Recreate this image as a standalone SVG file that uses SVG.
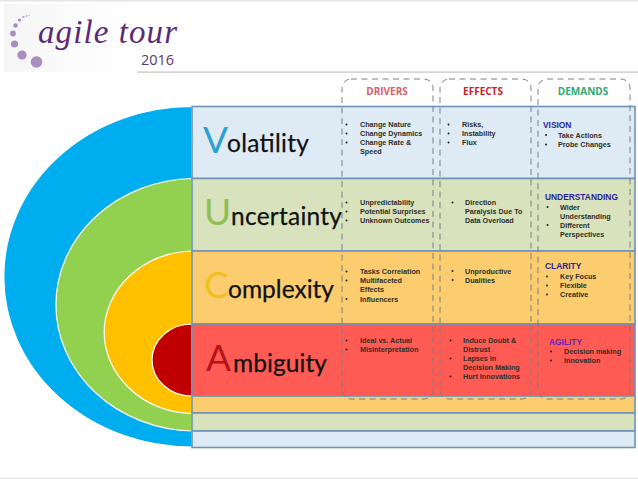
<svg xmlns="http://www.w3.org/2000/svg" width="638" height="479" viewBox="0 0 638 479">
<defs>
<linearGradient id="logoBg" x1="0" y1="0" x2="1" y2="0"><stop offset="0" stop-color="#f5f5f5"/><stop offset="0.6" stop-color="#fcfcfc"/><stop offset="1" stop-color="#ffffff"/></linearGradient>
</defs>
<style>
.arc{stroke:#fff;stroke-width:1.2}
.row{stroke:#6f93b5;stroke-width:1.6}
.dash{fill:none;stroke:#7a7f85;stroke-width:1;stroke-dasharray:6 4.5}
.big{font-family:Lato,"Open Sans",sans-serif;font-size:37px}
.word{font-family:Lato,"Open Sans",sans-serif;font-size:24.5px;fill:#101010;stroke:#101010;stroke-width:.25}
.hd{font-family:"Open Sans","Liberation Sans",sans-serif;font-size:10px;font-weight:700;text-anchor:middle}
.t{font-family:"Liberation Sans",Arial,sans-serif;font-size:7.2px;font-weight:700;fill:#2e2e26}
.h{font-family:"Liberation Sans",Arial,sans-serif;font-size:8.4px;font-weight:700;fill:#2a1f9a}
.b{fill:#1e1e1e}
</style>
<rect width="638" height="479" fill="#fff"/>
<g id="logo">
<rect x="4" y="4" width="134" height="68" fill="url(#logoBg)"/>
<rect x="0" y="0" width="638" height="1.5" fill="#e4e4e4"/>
<rect x="137" y="71.5" width="501" height="1.2" fill="#c4c4c4"/>
<rect x="0" y="477.5" width="638" height="1.5" fill="#e8e8e8"/>
<g fill="#a98cc0">
<circle cx="36.5" cy="62" r="5.8"/><circle cx="22" cy="55" r="4.6"/><circle cx="14.5" cy="44" r="3.6"/><circle cx="13" cy="33.5" r="2.9"/><circle cx="15.5" cy="25.5" r="2.3"/><circle cx="19.5" cy="20" r="1.6"/><circle cx="23.5" cy="17" r="1.1"/><circle cx="26.5" cy="16" r="0.8"/><circle cx="29" cy="15.3" r="0.6"/>
</g>
<text x="38" y="43" font-family="'Liberation Serif',serif" font-style="italic" font-size="33" fill="#5a2a78" textLength="139">agile tour</text>
<text x="141" y="65" font-family="'Open Sans',sans-serif" font-size="14.5" fill="#5a3a70">2016</text>
</g>
<g id="onion">
<path class="arc" d="M192 106.5A188 170 0 0 0 192 447Z" fill="#00aeef"/>
<path class="arc" d="M192 178.5A140 126.3 0 0 0 192 431Z" fill="#92d050"/>
<path class="arc" d="M192 251A91 81.3 0 0 0 192 413.5Z" fill="#ffc000"/>
<path class="arc" d="M192 324A40 36 0 0 0 192 396Z" fill="#c00000"/>
</g>
<g id="row-volatility">
<rect class="row" x="192" y="106.5" width="443" height="72" fill="#deebf4"/>
<text class="big" x="203" y="153" fill="#2e9fd0">V</text><text class="word" x="227" y="152" textLength="82">olatility</text>
</g>
<g id="row-uncertainty">
<rect class="row" x="192" y="178.5" width="443" height="72.5" fill="#d8e2bd"/>
<text class="big" x="204" y="225" fill="#8cc152">U</text><text class="word" x="231" y="225" textLength="111">ncertainty</text>
</g>
<g id="row-complexity">
<rect class="row" x="192" y="251" width="443" height="73" fill="#fbcd6e"/>
<text class="big" x="204" y="298" fill="#f0c020">C</text><text class="word" x="228" y="298" textLength="106">omplexity</text>
</g>
<g id="row-ambiguity">
<rect class="row" x="192" y="324" width="443" height="72" fill="#ff5b55"/>
<text class="big" x="206" y="371" fill="#b5121b">A</text><text class="word" x="233" y="372" textLength="94">mbiguity</text>
</g>
<g id="bands">
<rect class="row" x="192" y="396" width="443" height="17" fill="#fbcd6e"/>
<rect class="row" x="192" y="413" width="443" height="18" fill="#d8e2bd"/>
<rect class="row" x="192" y="431" width="443" height="16.5" fill="#deebf4"/>
</g>
<g id="col-drivers">
<rect class="dash" x="342" y="79" width="91" height="320" rx="9"/>
<text class="hd" x="387" y="95" fill="#d8606a">DRIVERS</text>
<g class="t">
<text x="360" y="127">Change Nature</text><text x="360" y="136">Change Dynamics</text><text x="360" y="145">Change Rate &amp;</text><text x="360" y="154">Speed</text>
<text x="360" y="205">Unpredictability</text><text x="360" y="214">Potential Surprises</text><text x="360" y="223">Unknown Outcomes</text>
<text x="360" y="274">Tasks Correlation</text><text x="360" y="283">Multifaceted</text><text x="360" y="292">Effects</text><text x="360" y="301.5">Influencers</text>
<text x="360" y="343">Ideal vs. Actual</text><text x="360" y="352">Misinterpretation</text>
</g>
<g class="b">
<circle cx="346.5" cy="124.5" r="1"/><circle cx="346.5" cy="133.5" r="1"/><circle cx="346.5" cy="142.5" r="1"/>
<circle cx="346.5" cy="202.5" r="1"/><circle cx="346.5" cy="211.5" r="1"/><circle cx="346.5" cy="220.5" r="1"/>
<circle cx="346.5" cy="271.5" r="1"/><circle cx="346.5" cy="280.5" r="1"/><circle cx="346.5" cy="299" r="1"/>
<circle cx="346.5" cy="340.5" r="1"/><circle cx="346.5" cy="349.5" r="1"/>
</g>
</g>
<g id="col-effects">
<rect class="dash" x="440" y="79" width="91" height="320" rx="9"/>
<text class="hd" x="483" y="95" fill="#cc2028">EFFECTS</text>
<g class="t">
<text x="462" y="127">Risks,</text><text x="462" y="136">Instability</text><text x="462" y="145">Flux</text>
<text x="465" y="205">Direction</text><text x="465" y="214">Paralysis Due To</text><text x="465" y="223">Data Overload</text>
<text x="465" y="273.5">Unproductive</text><text x="465" y="282.5">Dualities</text>
<text x="463" y="343">Induce Doubt &amp;</text><text x="463" y="352">Distrust</text><text x="463" y="361">Lapses In</text><text x="463" y="370">Decision Making</text><text x="463" y="379">Hurt Innovations</text>
</g>
<g class="b">
<circle cx="448.5" cy="124.5" r="1"/><circle cx="448.5" cy="133.5" r="1"/><circle cx="448.5" cy="142.5" r="1"/>
<circle cx="452.5" cy="202.5" r="1"/>
<circle cx="452.5" cy="271" r="1"/><circle cx="452.5" cy="280" r="1"/>
<circle cx="450.5" cy="340.5" r="1"/><circle cx="450.5" cy="358.5" r="1"/><circle cx="450.5" cy="376.5" r="1"/>
</g>
</g>
<g id="col-demands">
<rect class="dash" x="538" y="79" width="92" height="320" rx="9"/>
<text class="hd" x="583" y="95" fill="#2faa70">DEMANDS</text>
<text class="h" x="543" y="128">VISION</text>
<text class="h" x="545" y="200">UNDERSTANDING</text>
<text class="h" x="545" y="269">CLARITY</text>
<text class="h" x="549" y="345" style="fill:#6a1fb0">AGILITY</text>
<g class="t">
<text x="558" y="137.5">Take Actions</text><text x="558" y="147">Probe Changes</text>
<text x="560" y="209.5">Wider</text><text x="560" y="218.5">Understanding</text><text x="560" y="227.5">Different</text><text x="560" y="236.5">Perspectives</text>
<text x="560" y="279">Key Focus</text><text x="560" y="288">Flexible</text><text x="560" y="297">Creative</text>
<text x="564" y="354">Decision making</text><text x="564" y="363">Innovation</text>
</g>
<g class="b">
<circle cx="546" cy="135" r="1"/><circle cx="546" cy="144.5" r="1"/>
<circle cx="547.5" cy="207" r="1"/><circle cx="547.5" cy="225" r="1"/>
<circle cx="547" cy="276.5" r="1"/><circle cx="547" cy="285.5" r="1"/><circle cx="547" cy="294.5" r="1"/>
<circle cx="551" cy="351.5" r="1"/><circle cx="551" cy="360.5" r="1"/>
</g>
</g>
</svg>
